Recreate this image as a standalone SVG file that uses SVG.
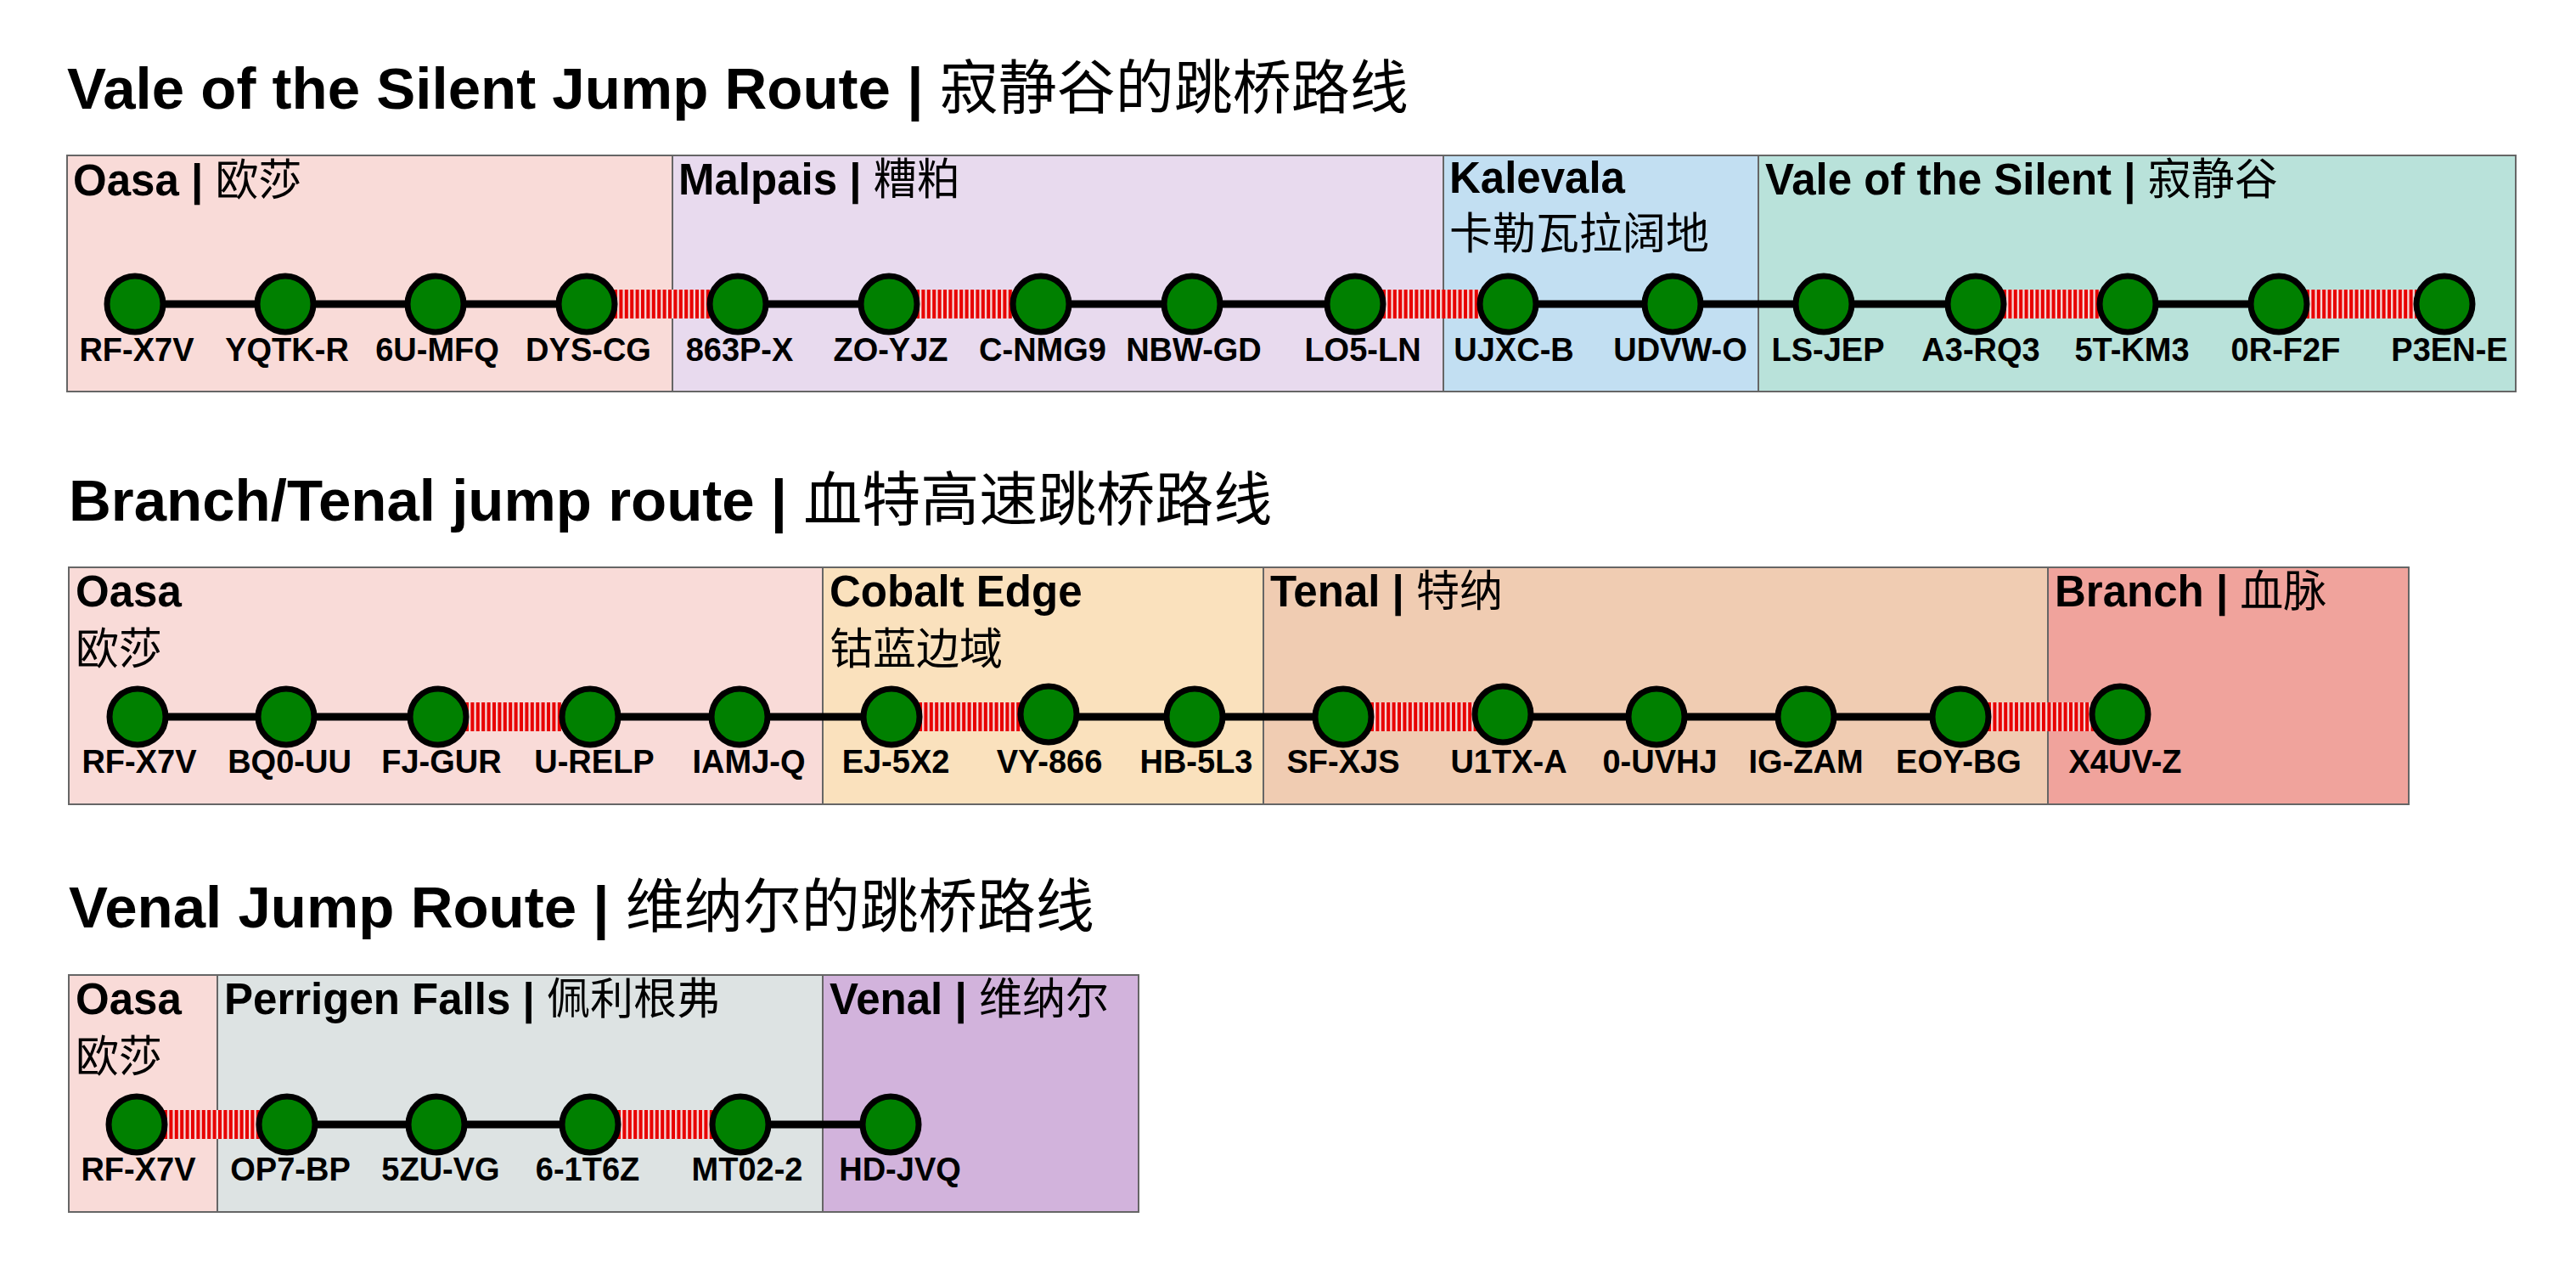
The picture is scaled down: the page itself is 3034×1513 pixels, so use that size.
<svg xmlns="http://www.w3.org/2000/svg" width="3034" height="1513" viewBox="0 0 3034 1513">
<style>
.ttl{font-family:"Liberation Sans","Noto Sans CJK SC",sans-serif;font-weight:bold;font-size:69px;fill:#000}
.sec{font-family:"Liberation Sans","Noto Sans CJK SC",sans-serif;font-weight:bold;font-size:51px;fill:#000}
.cjk{font-family:"Noto Sans CJK SC",sans-serif;font-weight:normal}
.lbl{font-family:"Liberation Sans",sans-serif;font-weight:bold;font-size:38px;fill:#000;text-anchor:middle}
.box{stroke:#666;stroke-width:2}
.node{fill:#008000;stroke:#000;stroke-width:7}
.edge{stroke:#000;stroke-width:9;fill:none}
.jbg{stroke:#f4d4d4;stroke-width:34;fill:none}
.jmp{stroke:#e80000;stroke-width:34;stroke-dasharray:4 2.4;fill:none}
</style>
<rect width="3034" height="1513" fill="#fff"/>

<!-- Titles -->
<text class="ttl" x="79" y="128">Vale of the Silent Jump Route | <tspan class="cjk">寂静谷的跳桥路线</tspan></text>
<text class="ttl" x="81" y="613">Branch/Tenal jump route | <tspan class="cjk">血特高速跳桥路线</tspan></text>
<text class="ttl" x="81" y="1092">Venal Jump Route | <tspan class="cjk">维纳尔的跳桥路线</tspan></text>

<!-- Row 1 regions -->
<g id="r1-oasa"><rect class="box" x="79" y="183" width="713" height="278" fill="#f9dbd8"/><text class="sec" x="86" y="230">Oasa | <tspan class="cjk">欧莎</tspan></text></g>
<g id="r1-malpais"><rect class="box" x="792" y="183" width="908" height="278" fill="#e8daee"/><text class="sec" x="799" y="229">Malpais | <tspan class="cjk">糟粕</tspan></text></g>
<g id="r1-kalevala"><rect class="box" x="1700" y="183" width="371" height="278" fill="#c2dff2"/><text class="sec" x="1707" y="227">Kalevala</text><text class="sec cjk" x="1707" y="293">卡勒瓦拉阔地</text></g>
<g id="r1-vale"><rect class="box" x="2071" y="183" width="892" height="278" fill="#b9e2da"/><text class="sec" x="2079" y="229">Vale of the Silent | <tspan class="cjk">寂静谷</tspan></text></g>

<!-- Row 2 regions -->
<g id="r2-oasa"><rect class="box" x="81" y="668" width="888" height="279" fill="#f9dbd8"/><text class="sec" x="89" y="714">Oasa</text><text class="sec cjk" x="89" y="782">欧莎</text></g>
<g id="r2-cobalt"><rect class="box" x="969" y="668" width="519" height="279" fill="#fae1bd"/><text class="sec" x="977" y="714">Cobalt Edge</text><text class="sec cjk" x="977" y="782">钴蓝边域</text></g>
<g id="r2-tenal"><rect class="box" x="1488" y="668" width="924" height="279" fill="#f0ccb2"/><text class="sec" x="1496" y="714">Tenal | <tspan class="cjk">特纳</tspan></text></g>
<g id="r2-branch"><rect class="box" x="2412" y="668" width="425" height="279" fill="#f0a39c"/><text class="sec" x="2420" y="714">Branch | <tspan class="cjk">血脉</tspan></text></g>

<!-- Row 3 regions -->
<g id="r3-oasa"><rect class="box" x="81" y="1148" width="175" height="279" fill="#f9dbd8"/><text class="sec" x="89" y="1194">Oasa</text><text class="sec cjk" x="89" y="1262">欧莎</text></g>
<g id="r3-perrigen"><rect class="box" x="256" y="1148" width="713" height="279" fill="#dde3e3"/><text class="sec" x="264" y="1194">Perrigen Falls | <tspan class="cjk">佩利根弗</tspan></text></g>
<g id="r3-venal"><rect class="box" x="969" y="1148" width="372" height="279" fill="#d2b3dc"/><text class="sec" x="977" y="1194">Venal | <tspan class="cjk">维纳尔</tspan></text></g>

<!-- Connectors -->
<g id="connectors">
<path class="edge" d="M159 358H691M869 358H1047M1226 358H1596M1776 358H2327M2506 358H2684"/>
<path class="jbg" d="M691 358H869M1047 358H1226M1596 358H1776M2327 358H2506M2684 358H2879"/>
<path class="jmp" d="M691 358H869M1047 358H1226M1596 358H1776M2327 358H2506M2684 358H2879"/>
<path class="edge" d="M162 844H516M695 844H1050M1235 844H1582M1770 844H2309"/>
<path class="jbg" d="M516 844H695M1050 844H1235M1582 844H1770M2309 844H2497"/>
<path class="jmp" d="M516 844H695M1050 844H1235M1582 844H1770M2309 844H2497"/>
<path class="edge" d="M338 1324H695M872 1324H1049"/>
<path class="jbg" d="M161 1324H338M695 1324H872"/>
<path class="jmp" d="M161 1324H338M695 1324H872"/>
</g>

<!-- Row 1 nodes -->
<g id="n1-rf-x7v"><circle class="node" cx="159" cy="358" r="33"/><text class="lbl" x="161" y="425">RF-X7V</text></g>
<g id="n1-yqtk-r"><circle class="node" cx="336" cy="358" r="33"/><text class="lbl" x="338" y="425">YQTK-R</text></g>
<g id="n1-6u-mfq"><circle class="node" cx="513" cy="358" r="33"/><text class="lbl" x="515" y="425">6U-MFQ</text></g>
<g id="n1-dys-cg"><circle class="node" cx="691" cy="358" r="33"/><text class="lbl" x="693" y="425">DYS-CG</text></g>
<g id="n1-863p-x"><circle class="node" cx="869" cy="358" r="33"/><text class="lbl" x="871" y="425">863P-X</text></g>
<g id="n1-zo-yjz"><circle class="node" cx="1047" cy="358" r="33"/><text class="lbl" x="1049" y="425">ZO-YJZ</text></g>
<g id="n1-c-nmg9"><circle class="node" cx="1226" cy="358" r="33"/><text class="lbl" x="1228" y="425">C-NMG9</text></g>
<g id="n1-nbw-gd"><circle class="node" cx="1404" cy="358" r="33"/><text class="lbl" x="1406" y="425">NBW-GD</text></g>
<g id="n1-lo5-ln"><circle class="node" cx="1596" cy="358" r="33"/><text class="lbl" x="1605" y="425">LO5-LN</text></g>
<g id="n1-ujxc-b"><circle class="node" cx="1776" cy="358" r="33"/><text class="lbl" x="1783" y="425">UJXC-B</text></g>
<g id="n1-udvw-o"><circle class="node" cx="1970" cy="358" r="33"/><text class="lbl" x="1979" y="425">UDVW-O</text></g>
<g id="n1-ls-jep"><circle class="node" cx="2148" cy="358" r="33"/><text class="lbl" x="2153" y="425">LS-JEP</text></g>
<g id="n1-a3-rq3"><circle class="node" cx="2327" cy="358" r="33"/><text class="lbl" x="2333" y="425">A3-RQ3</text></g>
<g id="n1-5t-km3"><circle class="node" cx="2506" cy="358" r="33"/><text class="lbl" x="2511" y="425">5T-KM3</text></g>
<g id="n1-0r-f2f"><circle class="node" cx="2684" cy="358" r="33"/><text class="lbl" x="2692" y="425">0R-F2F</text></g>
<g id="n1-p3en-e"><circle class="node" cx="2879" cy="358" r="33"/><text class="lbl" x="2885" y="425">P3EN-E</text></g>

<!-- Row 2 nodes -->
<g id="n2-rf-x7v"><circle class="node" cx="162" cy="844" r="33"/><text class="lbl" x="164" y="910">RF-X7V</text></g>
<g id="n2-bq0-uu"><circle class="node" cx="337" cy="844" r="33"/><text class="lbl" x="341" y="910">BQ0-UU</text></g>
<g id="n2-fj-gur"><circle class="node" cx="516" cy="844" r="33"/><text class="lbl" x="520" y="910">FJ-GUR</text></g>
<g id="n2-u-relp"><circle class="node" cx="695" cy="844" r="33"/><text class="lbl" x="700" y="910">U-RELP</text></g>
<g id="n2-iamj-q"><circle class="node" cx="871" cy="844" r="33"/><text class="lbl" x="882" y="910">IAMJ-Q</text></g>
<g id="n2-ej-5x2"><circle class="node" cx="1050" cy="844" r="33"/><text class="lbl" x="1055" y="910">EJ-5X2</text></g>
<g id="n2-vy-866"><circle class="node" cx="1235" cy="841" r="33"/><text class="lbl" x="1236" y="910">VY-866</text></g>
<g id="n2-hb-5l3"><circle class="node" cx="1407" cy="844" r="33"/><text class="lbl" x="1409" y="910">HB-5L3</text></g>
<g id="n2-sf-xjs"><circle class="node" cx="1582" cy="844" r="33"/><text class="lbl" x="1582" y="910">SF-XJS</text></g>
<g id="n2-u1tx-a"><circle class="node" cx="1770" cy="841" r="33"/><text class="lbl" x="1777" y="910">U1TX-A</text></g>
<g id="n2-0-uvhj"><circle class="node" cx="1951" cy="844" r="33"/><text class="lbl" x="1955" y="910">0-UVHJ</text></g>
<g id="n2-ig-zam"><circle class="node" cx="2127" cy="844" r="33"/><text class="lbl" x="2127" y="910">IG-ZAM</text></g>
<g id="n2-eoy-bg"><circle class="node" cx="2309" cy="844" r="33"/><text class="lbl" x="2307" y="910">EOY-BG</text></g>
<g id="n2-x4uv-z"><circle class="node" cx="2497" cy="841" r="33"/><text class="lbl" x="2503" y="910">X4UV-Z</text></g>

<!-- Row 3 nodes -->
<g id="n3-rf-x7v"><circle class="node" cx="161" cy="1324" r="33"/><text class="lbl" x="163" y="1390">RF-X7V</text></g>
<g id="n3-op7-bp"><circle class="node" cx="338" cy="1324" r="33"/><text class="lbl" x="342" y="1390">OP7-BP</text></g>
<g id="n3-5zu-vg"><circle class="node" cx="514" cy="1324" r="33"/><text class="lbl" x="519" y="1390">5ZU-VG</text></g>
<g id="n3-6-1t6z"><circle class="node" cx="695" cy="1324" r="33"/><text class="lbl" x="692" y="1390">6-1T6Z</text></g>
<g id="n3-mt02-2"><circle class="node" cx="872" cy="1324" r="33"/><text class="lbl" x="880" y="1390">MT02-2</text></g>
<g id="n3-hd-jvq"><circle class="node" cx="1049" cy="1324" r="33"/><text class="lbl" x="1060" y="1390">HD-JVQ</text></g>
</svg>
